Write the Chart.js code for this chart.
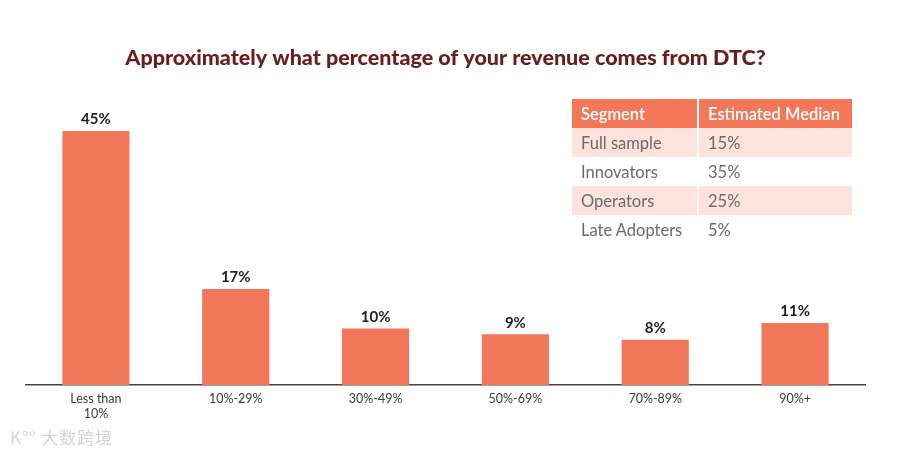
<!DOCTYPE html>
<html>
<head>
<meta charset="utf-8">
<script src="https://cdn.jsdelivr.net/npm/chart.js@4"></script>
<style>
  html, body { margin: 0; padding: 0; background: #fff; }
  #wrap { position: relative; width: 900px; height: 450px; }
  #chart { position: absolute; left: 0; top: 0; }
  #segTable {
    position: absolute; left: 572px; top: 99px; width: 280px;
    border-collapse: collapse; font-family: 'Lato', sans-serif; font-size: 16.5px;
  }
  #segTable th, #segTable td {
    height: 29px; padding: 0 0 0 9px; text-align: left; box-sizing: border-box;
    border-left: 2px solid #fff;
  }
  #segTable th:first-child, #segTable td:first-child { border-left: none; width: 126px; }
  #segTable th { background: #f4775a; color: #fff; font-weight: 600; }
  #segTable td { color: #6b6b6b; }
  #segTable tr.shade td { background: #fde3db; }
  #watermark {
    position: absolute; left: 10px; top: 424px; color: #d4d4d4;
    font-family: 'Noto Sans CJK SC', sans-serif; font-size: 17px; letter-spacing: 1px;
  }
</style>
</head>
<body>
<div id="wrap">
  <canvas id="chart" width="900" height="450"></canvas>
  <table id="segTable">
    <thead><tr><th>Segment</th><th>Estimated Median</th></tr></thead>
    <tbody id="segBody"></tbody>
  </table>
  <div id="watermark">K°° 大数跨境</div>
</div>
<script>
// Chart data
const categories = [['Less than', '10%'], '10%-29%', '30%-49%', '50%-69%', '70%-89%', '90%+']
const shares = [45, 17, 10, 9, 8, 11]

// Table data
const segments = ['Full sample', 'Innovators', 'Operators', 'Late Adopters']
const medians = ['15%', '35%', '25%', '5%']

document.getElementById('segBody').innerHTML = segments
  .map((seg, i) => `<tr class="${i % 2 === 0 ? 'shade' : ''}"><td>${seg}</td><td>${medians[i]}</td></tr>`)
  .join('')

// draw "45%" etc above each bar
const barLabels = {
  id: 'barLabels',
  afterDatasetsDraw(chart) {
    const ctx = chart.ctx
    const meta = chart.getDatasetMeta(0)
    ctx.save()
    ctx.font = 'bold 15px Lato, sans-serif'
    ctx.fillStyle = '#1e1e1e'
    ctx.textAlign = 'center'
    ctx.textBaseline = 'bottom'
    meta.data.forEach((bar, i) => {
      ctx.fillText(shares[i] + '%', bar.x, bar.y - 4)
    })
    ctx.restore()
  }
}

new Chart(document.getElementById('chart'), {
  type: 'bar',
  data: {
    labels: categories,
    datasets: [
      {
        data: shares,
        backgroundColor: '#f2765a',
        barPercentage: 0.48,
        categoryPercentage: 1
      }
    ]
  },
  options: {
    responsive: false,
    animation: false,
    layout: { padding: { left: 26, right: 35, top: 0, bottom: 23 } },
    plugins: {
      legend: { display: false },
      tooltip: { enabled: false },
      title: {
        display: true,
        text: 'Approximately what percentage of your revenue comes from DTC?',
        color: '#6a1d1d',
        font: { family: 'Lato', size: 21.5, weight: 900 },
        padding: { top: 45, bottom: 32 }
      }
    },
    scales: {
      x: {
        grid: { display: false, drawTicks: false },
        border: { display: true, color: '#444', width: 1.5 },
        ticks: {
          color: '#3a3a3a',
          font: { family: 'Lato', size: 12.5 },
          padding: 6,
          maxRotation: 0
        }
      },
      y: {
        display: false,
        min: 0,
        max: 50
      }
    }
  },
  plugins: [barLabels]
})
</script>
</body>
</html>
